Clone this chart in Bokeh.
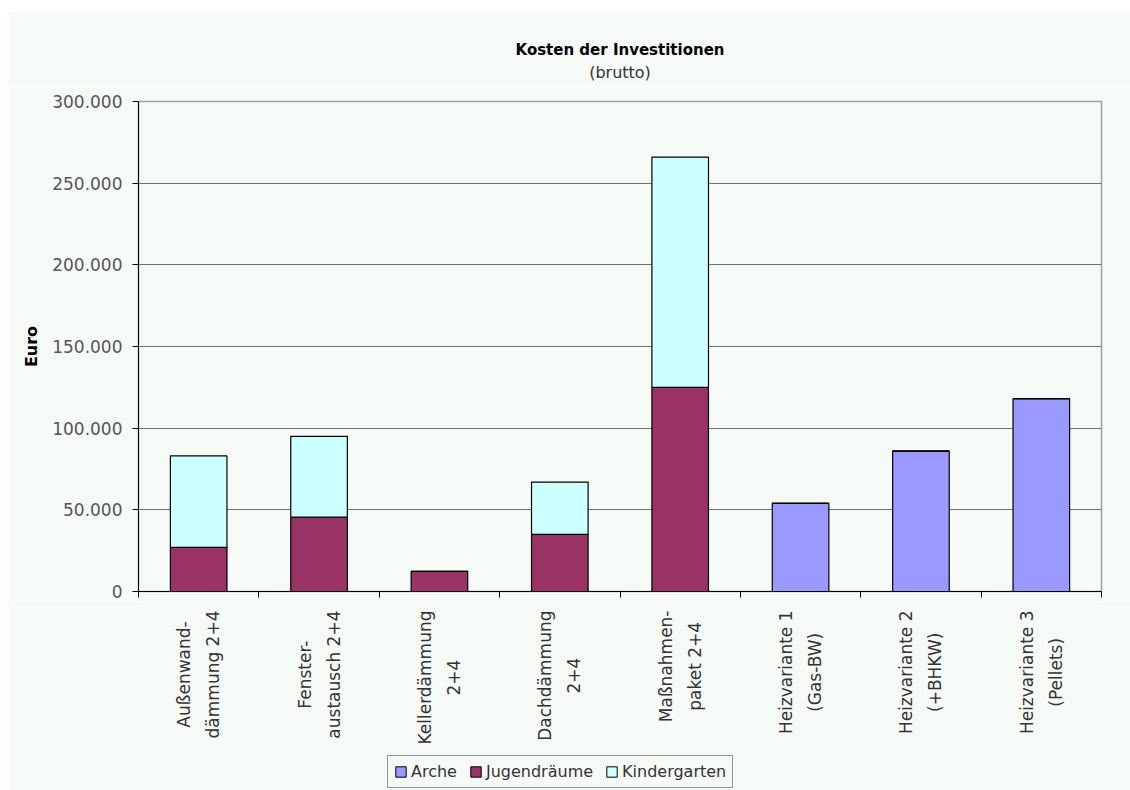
from bokeh.plotting import figure
from bokeh.models import Range1d, FixedTicker, Legend, LegendItem
from bokeh.layouts import column
from bokeh.embed import file_html
from bokeh.resources import INLINE
from bokeh.core.properties import value

categories = ["Außenwand-\ndämmung 2+4", "Fenster-\naustausch 2+4", "Kellerdämmung\n2+4",
              "Dachdämmung\n2+4", "Maßnahmen-\npaket 2+4", "Heizvariante 1\n(Gas-BW)",
              "Heizvariante 2\n(+BHKW)", "Heizvariante 3\n(Pellets)"]
arche = [0, 0, 0, 0, 0, 54000, 86000, 118000]
jugendraeume = [27000, 45500, 12300, 35000, 125000, 0, 0, 0]
kindergarten = [56000, 49500, 0, 32000, 141000, 0, 0, 0]
series_names = ["Arche", "Jugendräume", "Kindergarten"]
colors = ["#9999FF", "#993366", "#CCFFFF"]
y_ticks = [0, 50000, 100000, 150000, 200000, 250000, 300000]
title = "Kosten der Investitionen"
subtitle = "(brutto)"

FONT = "DejaVu Sans"
BG = "#F6FAF7"

W = 1122
L, R = 130, 29
P_TOP = 14
TOP_H = 90 - P_TOP
FRAME_H = 490
AX_H = 10
BOT_H = 790 - 11 - TOP_H - P_TOP - FRAME_H - AX_H
n = len(categories)
xs = [i + 0.5 for i in range(n)]


def blank(fig):
    fig.background_fill_color = BG
    fig.border_fill_color = BG
    fig.outline_line_color = None
    fig.axis.visible = False
    fig.grid.visible = False


# ---- title strip
t = figure(width=W, height=TOP_H, x_range=Range1d(0, W), y_range=Range1d(-TOP_H, 0),
           output_backend="svg", toolbar_location=None,
           min_border_left=0, min_border_right=0, min_border_top=0, min_border_bottom=0)
blank(t)
cx = (1130 - 8 * 2) / 2 + 4
t.text(x=[cx], y=[-38], text=[title], text_font=value(FONT), text_font_style="bold",
       text_font_size="15px", text_align="center", text_baseline="middle", text_color="black")
t.text(x=[cx], y=[-61], text=[subtitle], text_font=value(FONT),
       text_font_size="16px", text_align="center", text_baseline="middle", text_color="#333333")

# ---- main plot
p = figure(width=W, height=P_TOP + FRAME_H + AX_H, x_range=Range1d(0, n), y_range=Range1d(0, 300000),
           output_backend="svg", toolbar_location=None,
           min_border_left=L, min_border_right=R, min_border_top=P_TOP, min_border_bottom=AX_H)
p.background_fill_color = BG
p.border_fill_color = BG
p.outline_line_color = "#A0A0A0"
p.outline_line_width = 1.5

data = dict(x=xs, Arche=arche, Jugend=jugendraeume, Kinder=kindergarten)
rs = p.vbar_stack(["Arche", "Jugend", "Kinder"], x="x", width=0.47, source=data,
                  fill_color=colors, line_color="black", line_width=1.2)

p.xgrid.visible = False
p.ygrid.ticker = FixedTicker(ticks=y_ticks)
p.ygrid.grid_line_color = "#707070"
p.ygrid.grid_line_width = 1.2

p.yaxis.ticker = FixedTicker(ticks=y_ticks)
p.yaxis.major_label_overrides = {tk: f"{tk:,}".replace(",", ".") for tk in y_ticks}
p.yaxis.major_label_text_font = FONT
p.yaxis.major_label_text_font_size = "17px"
p.yaxis.major_label_text_color = "#555555"
p.yaxis.major_tick_out = 6
p.yaxis.major_tick_in = 0
p.yaxis.minor_tick_out = 0
p.yaxis.minor_tick_in = 0
p.yaxis.major_label_standoff = 10
p.yaxis.axis_line_color = "black"
p.yaxis.major_tick_line_color = "black"
p.yaxis.axis_label = "Euro"
p.yaxis.axis_label_text_font = FONT
p.yaxis.axis_label_text_font_style = "bold"
p.yaxis.axis_label_text_font_size = "16px"
p.yaxis.axis_label_text_color = "black"
p.yaxis.axis_label_standoff = 8

p.xaxis.ticker = FixedTicker(ticks=[], minor_ticks=list(range(n + 1)))
p.xaxis.major_label_text_font_size = "0px"
p.xaxis.major_label_standoff = 0
p.xaxis.major_tick_out = 0
p.xaxis.major_tick_in = 0
p.xaxis.minor_tick_out = 6
p.xaxis.minor_tick_in = 0
p.xaxis.minor_tick_line_color = "black"
p.xaxis.axis_line_color = "black"

# ---- category labels + legend strip
q = figure(width=W, height=BOT_H, x_range=p.x_range, y_range=Range1d(-BOT_H, 0),
           output_backend="svg", toolbar_location=None,
           min_border_left=L, min_border_right=R, min_border_top=0, min_border_bottom=0)
blank(q)
q.text(x=xs, y=[-9] * n, text=categories, angle=1.5707963, anchor="center_right",
       text_align="center", text_font=value(FONT), text_font_size="17px",
       text_line_height=1.45, text_color="#333333")

# legend swatches: same styling as the bars, placed far outside both ranges so only the key shows
proxies = [q.vbar(x=[-1000], top=[-10000], bottom=[-10001], width=0.47, fill_color=c,
                  line_color="black", line_width=1) for c in colors]
items = [LegendItem(label=nm, renderers=[r]) for nm, r in zip(series_names, proxies)]
legend = Legend(items=items, orientation="horizontal", location=(249, 2),
                label_text_font=FONT, label_text_font_size="16px",
                label_text_color="#333333", glyph_width=13, glyph_height=13,
                label_standoff=4, spacing=12, padding=6, margin=0,
                border_line_color="#333333", border_line_width=1,
                background_fill_color=BG, background_fill_alpha=1.0,
                label_height=15)
q.add_layout(legend, "center")

layout = column(t, p, q, spacing=0)
layout.margin = (11, 0, 0, 8)

open("out.html", "w").write(file_html(layout, INLINE))
